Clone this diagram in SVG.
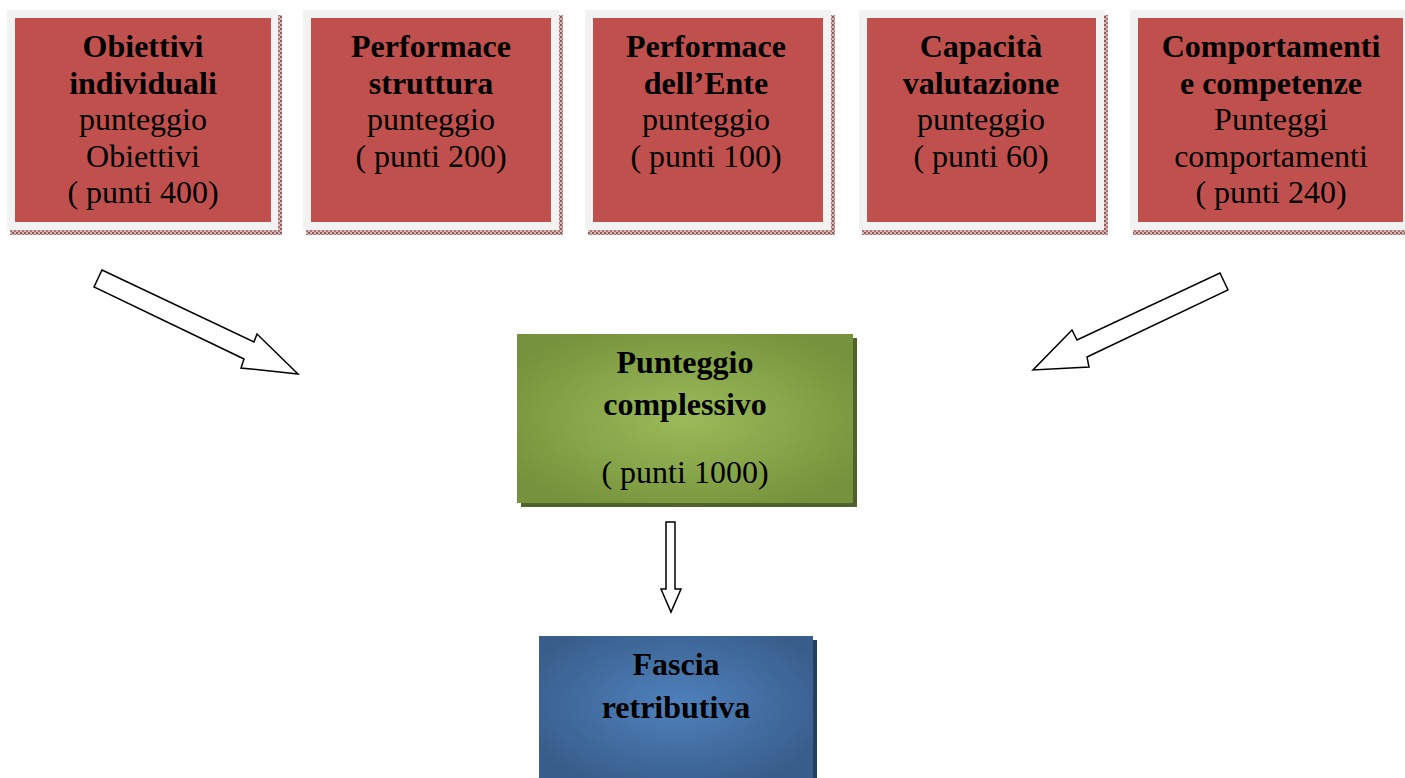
<svg xmlns="http://www.w3.org/2000/svg" width="1405" height="778" viewBox="0 0 1405 778">
<defs>
<pattern id="dots" width="4" height="4" patternUnits="userSpaceOnUse">
<rect width="4" height="4" fill="#d9b8b8"/>
<rect width="2" height="2" fill="#8c5a5a"/>
<rect x="2" y="2" width="2" height="2" fill="#a87878"/>
</pattern>
<radialGradient id="gGreen" cx="0.5" cy="0.5" r="0.6">
<stop offset="0" stop-color="#9bbb59"/>
<stop offset="1" stop-color="#76923c"/>
</radialGradient>
<radialGradient id="gBlue" cx="0.5" cy="0.45" r="0.6">
<stop offset="0" stop-color="#4f81bd"/>
<stop offset="1" stop-color="#385d8a"/>
</radialGradient>
</defs>
<style>
.shadow{fill:url(#dots)}
.frame{fill:#f2f2f2}
.red{fill:#c0504d}
text{font-family:"Liberation Serif","Times New Roman",serif;font-size:32px;fill:#000;text-anchor:middle}
.b{font-weight:bold}
.arrow{fill:#fff;stroke:#000;stroke-width:1.5;stroke-linejoin:miter}
</style>
<g id="node-obiettivi">
<rect class="shadow" x="10" y="15" width="272" height="220"/>
<rect class="frame" x="7" y="10" width="271" height="220"/>
<rect class="red" x="15" y="18" width="256" height="204"/>
<text x="143" y="57" class="b">Obiettivi</text>
<text x="143" y="94" class="b">individuali</text>
<text x="143" y="130">punteggio</text>
<text x="143" y="167">Obiettivi</text>
<text x="143" y="203">( punti 400)</text>
</g>
<g id="node-struttura">
<rect class="shadow" x="306" y="15" width="257" height="220"/>
<rect class="frame" x="303" y="10" width="256" height="220"/>
<rect class="red" x="311" y="18" width="240" height="204"/>
<text x="431" y="57" class="b">Performace</text>
<text x="431" y="94" class="b">struttura</text>
<text x="431" y="130">punteggio</text>
<text x="431" y="167">( punti 200)</text>
</g>
<g id="node-ente">
<rect class="shadow" x="588" y="15" width="247" height="220"/>
<rect class="frame" x="585" y="10" width="246" height="220"/>
<rect class="red" x="593" y="18" width="230" height="204"/>
<text x="706" y="57" class="b">Performace</text>
<text x="706" y="94" class="b">dell’Ente</text>
<text x="706" y="130">punteggio</text>
<text x="706" y="167">( punti 100)</text>
</g>
<g id="node-capacita">
<rect class="shadow" x="862" y="15" width="246" height="220"/>
<rect class="frame" x="859" y="10" width="245" height="220"/>
<rect class="red" x="867" y="18" width="229" height="204"/>
<text x="981" y="57" class="b">Capacità</text>
<text x="981" y="94" class="b">valutazione</text>
<text x="981" y="130">punteggio</text>
<text x="981" y="167">( punti 60)</text>
</g>
<g id="node-comportamenti">
<rect class="shadow" x="1133" y="15" width="280" height="220"/>
<rect class="frame" x="1130" y="10" width="280" height="220"/>
<rect class="red" x="1138" y="18" width="265" height="204"/>
<text x="1271" y="57" class="b">Comportamenti</text>
<text x="1271" y="94" class="b">e competenze</text>
<text x="1271" y="130">Punteggi</text>
<text x="1271" y="167">comportamenti</text>
<text x="1271" y="203">( punti 240)</text>
</g>
<g id="node-complessivo">
<rect x="521" y="338" width="336" height="169" fill="#4f6228"/>
<rect x="517" y="334" width="336" height="169" fill="url(#gGreen)"/>
<text x="685" y="373" class="b">Punteggio</text>
<text x="685" y="415" class="b">complessivo</text>
<text x="685" y="483">( punti 1000)</text>
</g>
<g id="node-fascia">
<rect x="543" y="640" width="274" height="150" fill="#243f60"/>
<rect x="539" y="636" width="274" height="150" fill="url(#gBlue)"/>
<text x="676" y="675" class="b">Fascia</text>
<text x="676" y="718" class="b">retributiva</text>
</g>
<g id="connectors">
<polygon class="arrow" points="102,270 254,342 257,334 298,374 241,368 244,359 94,287"/>
<polygon class="arrow" points="1220,273 1228,290 1087,357 1089,367 1033,370 1072,330 1077,340"/>
<polygon class="arrow" points="666,522 675,522 675,589 681,589 671,612 661,589 666,589"/>
</g>
</svg>
